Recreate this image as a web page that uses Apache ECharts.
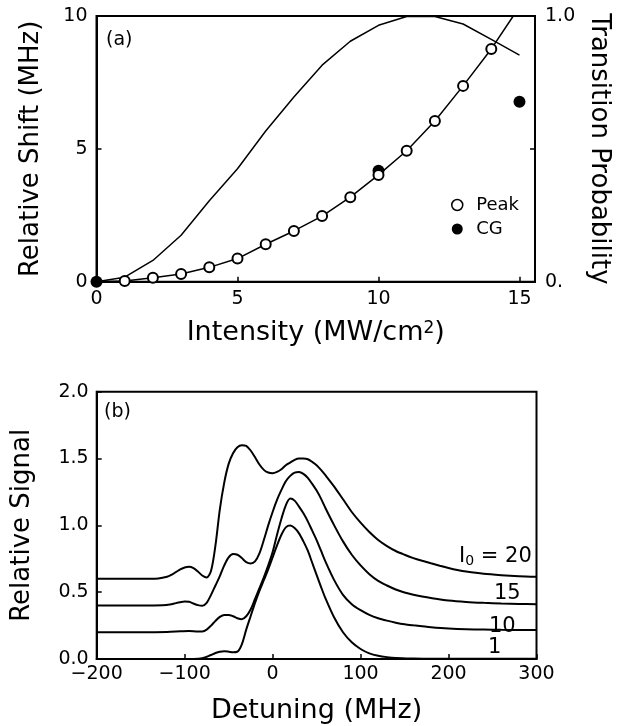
<!DOCTYPE html>
<html>
<head>
<meta charset="utf-8">
<script src="https://cdn.jsdelivr.net/npm/echarts@6/dist/echarts.min.js"></script>
<style>
  html, body { margin: 0; padding: 0; background: #fff; }
  #chart { width: 629px; height: 726px; }
</style>
</head>
<body>
<div id="chart"></div>
<script>
// (a) 相对位移 vs 光强
const intensity = [0, 1, 2, 3, 4, 5, 6, 7, 8, 9, 10, 11, 12, 13, 14];
const peakShift = [0, 0.03, 0.15, 0.29, 0.54, 0.87, 1.41, 1.91, 2.47, 3.18, 4.02, 4.93, 6.05, 7.37, 8.76];
const fitTail = [14.78, 10];
const cgIntensity = [0, 10, 15];
const cgShift = [0, 4.18, 6.77];
const probIntensity = [0, 1, 2, 3, 4, 5, 6, 7, 8, 9, 10, 11, 12, 13, 14, 15];
const probability = [0, 0.017, 0.08, 0.175, 0.305, 0.425, 0.567, 0.695, 0.815, 0.905, 0.965, 0.998, 0.998, 0.97, 0.912, 0.853];

// (b) 相对信号 vs 失谐
const signal1 = [[-200, 0], [-90, 0], [-80, 0.005], [-70, 0.03], [-65, 0.045], [-60, 0.055], [-55, 0.058],
  [-50, 0.055], [-45, 0.05], [-40, 0.055], [-35, 0.11], [-30, 0.22], [-25, 0.32], [-20, 0.42], [-15, 0.51],
  [-10, 0.59], [-5, 0.67], [0, 0.76], [5, 0.85], [10, 0.93], [15, 0.985], [20, 0.998], [25, 0.98],
  [30, 0.94], [35, 0.88], [40, 0.81], [45, 0.72], [50, 0.63], [55, 0.54], [60, 0.455], [70, 0.31],
  [80, 0.2], [90, 0.125], [100, 0.075], [110, 0.042], [120, 0.024], [130, 0.014], [140, 0.008],
  [160, 0.004], [180, 0.002], [300, 0.002]];
const signal10 = [[-200, 0.2], [-150, 0.2], [-120, 0.202], [-105, 0.207], [-95, 0.21], [-85, 0.205],
  [-80, 0.206], [-75, 0.22], [-70, 0.25], [-65, 0.285], [-60, 0.315], [-55, 0.33], [-50, 0.33],
  [-45, 0.32], [-40, 0.305], [-35, 0.298], [-30, 0.32], [-25, 0.37], [-20, 0.45], [-15, 0.53],
  [-10, 0.61], [-5, 0.7], [0, 0.8], [5, 0.93], [10, 1.05], [15, 1.15], [20, 1.2], [25, 1.185],
  [30, 1.14], [35, 1.09], [40, 1.03], [45, 0.96], [50, 0.89], [55, 0.81], [60, 0.73], [70, 0.59],
  [80, 0.48], [90, 0.41], [100, 0.365], [110, 0.33], [120, 0.305], [130, 0.287], [140, 0.272],
  [150, 0.26], [160, 0.252], [170, 0.245], [180, 0.238], [200, 0.228], [220, 0.222], [240, 0.22],
  [260, 0.218], [280, 0.217], [300, 0.217]];
const signal15 = [[-200, 0.4], [-150, 0.4], [-125, 0.402], [-115, 0.41], [-110, 0.418], [-105, 0.425],
  [-100, 0.43], [-95, 0.428], [-90, 0.415], [-85, 0.403], [-80, 0.398], [-75, 0.42], [-70, 0.48],
  [-65, 0.55], [-60, 0.62], [-55, 0.7], [-50, 0.76], [-45, 0.785], [-40, 0.78], [-35, 0.755],
  [-30, 0.725], [-25, 0.715], [-20, 0.73], [-15, 0.79], [-10, 0.89], [-5, 1.0], [0, 1.1], [5, 1.19],
  [10, 1.265], [15, 1.33], [20, 1.37], [25, 1.395], [30, 1.4], [35, 1.385], [40, 1.355], [45, 1.31],
  [50, 1.26], [55, 1.2], [60, 1.13], [70, 1.0], [80, 0.88], [90, 0.78], [100, 0.7], [110, 0.635],
  [120, 0.585], [130, 0.55], [140, 0.52], [150, 0.497], [160, 0.48], [170, 0.467], [180, 0.456],
  [200, 0.438], [220, 0.427], [240, 0.42], [260, 0.415], [280, 0.412], [300, 0.41]];
const signal20 = [[-200, 0.6], [-150, 0.6], [-130, 0.603], [-120, 0.615], [-115, 0.63], [-110, 0.65],
  [-105, 0.67], [-100, 0.685], [-95, 0.69], [-90, 0.68], [-85, 0.655], [-80, 0.625], [-75, 0.61],
  [-70, 0.66], [-65, 0.85], [-60, 1.12], [-55, 1.32], [-50, 1.46], [-45, 1.54], [-40, 1.585],
  [-35, 1.6], [-30, 1.595], [-25, 1.56], [-20, 1.51], [-15, 1.455], [-10, 1.415], [-5, 1.395],
  [0, 1.39], [5, 1.4], [10, 1.42], [15, 1.45], [20, 1.47], [25, 1.49], [30, 1.5], [35, 1.5],
  [40, 1.495], [45, 1.475], [50, 1.45], [55, 1.415], [60, 1.375], [70, 1.29], [80, 1.195], [90, 1.1],
  [100, 1.02], [110, 0.95], [120, 0.89], [130, 0.845], [140, 0.808], [150, 0.78], [160, 0.755],
  [170, 0.735], [180, 0.716], [190, 0.698], [200, 0.681], [210, 0.666], [220, 0.654], [240, 0.637],
  [260, 0.627], [280, 0.62], [300, 0.616]];

const FONT = 'DejaVu Sans';
const black = '#000';

const chart = echarts.init(document.getElementById('chart'));

const axisBase = {
    axisLine: { show: true, onZero: false, lineStyle: { color: black, width: 2 } },
    axisTick: { show: true, inside: true, length: 5, lineStyle: { color: black, width: 1.5 } },
    splitLine: { show: false },
    axisLabel: { color: black, fontFamily: FONT, fontSize: 19 },
    nameTextStyle: {
        color: black, fontFamily: FONT, fontSize: 26,
        rich: { sup: { color: black, fontFamily: FONT, fontSize: 17, verticalAlign: 'top', padding: [0, 0, 10, 0] } }
    }
};

function curve(name, data) {
    return {
        name: name, type: 'line', xAxisIndex: 1, yAxisIndex: 2,
        data: data, smooth: 0.3, symbol: 'none',
        lineStyle: { color: black, width: 2 }
    };
}

const peakData = intensity.map((x, i) => (i === 0 ? { value: [x, peakShift[i]], symbol: 'none' } : [x, peakShift[i]]));
peakData.push({ value: fitTail, symbol: 'none' });

const option = {
    animation: false,
    backgroundColor: '#fff',
    grid: [
        { left: 96.5, right: 94, top: 16, bottom: 444.3, show: true, borderColor: black, borderWidth: 2 },
        { left: 96.7, right: 92.5, top: 391.7, bottom: 67, show: true, borderColor: black, borderWidth: 2 }
    ],
    xAxis: [
        Object.assign({}, axisBase, {
            gridIndex: 0, type: 'value', min: 0, max: 15.55, interval: 5,
            name: 'Intensity (MW/cm{sup|2})', nameLocation: 'middle', nameGap: 38,
            nameTextStyle: Object.assign({}, axisBase.nameTextStyle, { fontSize: 27 }),
            axisLabel: Object.assign({}, axisBase.axisLabel, {
                margin: 8,
                formatter: v => (v % 5 === 0 ? String(v) : '')
            })
        }),
        Object.assign({}, axisBase, {
            gridIndex: 1, type: 'value', min: -200, max: 300, interval: 100,
            name: 'Detuning (MHz)', nameLocation: 'middle', nameGap: 38,
            nameTextStyle: Object.assign({}, axisBase.nameTextStyle, { fontSize: 27 }),
            axisLabel: Object.assign({}, axisBase.axisLabel, {
                margin: 6,
                formatter: v => String(v).replace('-', '\u2212')
            })
        })
    ],
    yAxis: [
        Object.assign({}, axisBase, {
            gridIndex: 0, type: 'value', min: 0, max: 10, interval: 5, position: 'left',
            name: 'Relative Shift (MHz)', nameLocation: 'middle', nameGap: 52,
            axisLabel: Object.assign({}, axisBase.axisLabel, { margin: 9 })
        }),
        Object.assign({}, axisBase, {
            gridIndex: 0, type: 'value', min: 0, max: 1, interval: 0.5, position: 'right',
            name: 'Transition Probability', nameLocation: 'middle', nameGap: 50, nameRotate: -90,
            axisLabel: Object.assign({}, axisBase.axisLabel, {
                margin: 10,
                formatter: v => (v === 0 ? '0.' : v === 1 ? '1.0' : '')
            })
        }),
        Object.assign({}, axisBase, {
            gridIndex: 1, type: 'value', min: 0, max: 2, interval: 0.5,
            name: 'Relative Signal', nameLocation: 'middle', nameGap: 61,
            axisLabel: Object.assign({}, axisBase.axisLabel, {
                margin: 8,
                formatter: v => v.toFixed(1)
            })
        })
    ],
    legend: {
        orient: 'vertical', left: 446, top: 191,
        itemWidth: 28, itemHeight: 11, itemGap: 6,
        textStyle: { color: black, fontFamily: FONT, fontSize: 18 },
        data: [
            { name: 'Peak', icon: 'circle', itemStyle: { color: '#fff', borderColor: black, borderWidth: 1.5, opacity: 1 } },
            { name: 'CG', icon: 'circle', itemStyle: { color: black, borderWidth: 0, opacity: 1 } }
        ]
    },
    graphic: [
        { type: 'text', left: 106, top: 31, style: { text: '(a)', font: '19px "DejaVu Sans"', fill: black } },
        { type: 'text', left: 104, top: 403, style: { text: '(b)', font: '19px "DejaVu Sans"', fill: black } },
        {
            type: 'text', left: 459, top: 546,
            style: {
                text: '{i|I}{s|0}{n| = 20}', fill: black,
                rich: {
                    i: { fontFamily: FONT, fontSize: 21, fill: black },
                    s: { fontFamily: FONT, fontSize: 14, fill: black, padding: [10, 0, 0, 0] },
                    n: { fontFamily: FONT, fontSize: 21, fill: black }
                }
            }
        },
        { type: 'text', left: 494, top: 583, style: { text: '15', font: '21px "DejaVu Sans"', fill: black } },
        { type: 'text', left: 489, top: 616, style: { text: '10', font: '21px "DejaVu Sans"', fill: black } },
        { type: 'text', left: 488, top: 637, style: { text: '1', font: '21px "DejaVu Sans"', fill: black } }
    ],
    series: [
        {
            name: 'Transition', type: 'line', xAxisIndex: 0, yAxisIndex: 1,
            data: probIntensity.map((x, i) => [x, probability[i]]),
            symbol: 'none', lineStyle: { color: black, width: 1.5 }
        },
        {
            name: 'Peak', type: 'line', xAxisIndex: 0, yAxisIndex: 0,
            data: peakData, symbol: 'emptyCircle', symbolSize: 10,
            itemStyle: { color: black, borderWidth: 1.5 },
            lineStyle: { color: black, width: 1.5 }
        },
        {
            name: 'CG', type: 'scatter', xAxisIndex: 0, yAxisIndex: 0, clip: false,
            data: cgIntensity.map((x, i) => [x, cgShift[i]]),
            symbol: 'circle', symbolSize: 12, itemStyle: { color: black, opacity: 1 }
        },
        curve('1', signal1),
        curve('10', signal10),
        curve('15', signal15),
        curve('20', signal20)
    ]
};

chart.setOption(option);
</script>
</body>
</html>
